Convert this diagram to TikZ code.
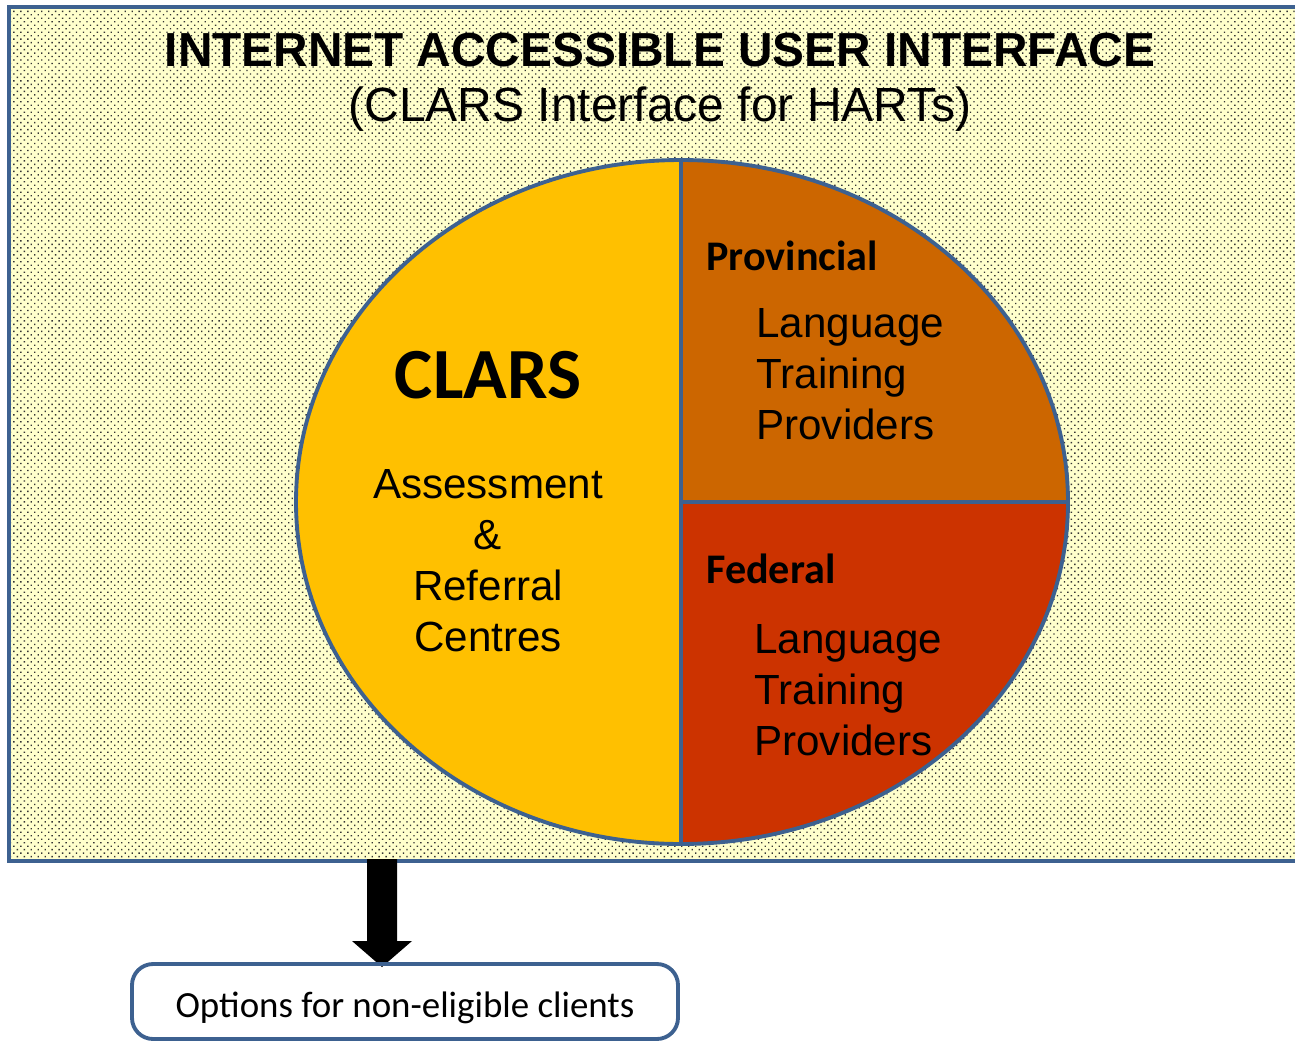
\documentclass[tikz,border=0pt]{standalone}
\usepackage{fontspec}
\setmainfont{Liberation Sans}
\newfontfamily\calfont{Carlito}
\usetikzlibrary{patterns.meta}
\definecolor{bordblue}{HTML}{3D6190}
\definecolor{bgyel}{HTML}{FFFFCC}
\definecolor{clarsyel}{HTML}{FFC000}
\definecolor{provor}{HTML}{CC6600}
\definecolor{fedred}{HTML}{CC3300}
\tikzset{
  part/.style={draw=bordblue, line width=2.2pt, line join=round},
  bodytext/.style={font=\fontsize{24}{28.9}\selectfont, align=left, inner sep=0pt},
  headtext/.style={font=\calfont\bfseries\fontsize{24}{28.9}\selectfont, inner sep=0pt},
}
\begin{document}
\begin{tikzpicture}[x=0.02cm, y=-0.02cm]
\useasboundingbox (0,0) rectangle (1295,1041);
\begin{scope}
\clip (0,0) rectangle (1295,1041);
% background panel
\fill[bgyel] (9,7) rectangle (1310,861);
\fill[pattern={Dots[distance=2.8pt, radius=0.55pt, angle=45]}, pattern color=black!80] (9,7) rectangle (1310,861);
\draw[bordblue, line width=2.2pt] (9,7) rectangle (1310,861);
% pie parts
\path[part, fill=clarsyel] (681,160) arc[start angle=-90, end angle=-270, x radius=385, y radius=342] -- cycle;
\path[part, fill=provor] (681,502) -- (681,160) arc[start angle=-90, end angle=0, x radius=387, y radius=342] -- cycle;
\path[part, fill=fedred] (681,502) -- (1068,502) arc[start angle=0, end angle=90, x radius=387, y radius=342] -- cycle;
% arrow
\fill[black] (367,859) -- (397,859) -- (397,941) -- (412,941) -- (382,967) -- (352,941) -- (367,941) -- cycle;
% bottom box
\draw[bordblue, line width=2.2pt, rounded corners=12] (132,964) rectangle (678,1039);
\end{scope}
% title
\node[anchor=base, inner sep=0pt, font=\bfseries\fontsize{27.2}{32}\selectfont] (title) at (660,66) {INTERNET ACCESSIBLE USER INTERFACE};
\node[anchor=base, inner sep=0pt, font=\fontsize{27.3}{32}\selectfont] (subtitle) at (660,121) {(CLARS Interface for HARTs)};
% CLARS
\node[anchor=base, inner sep=0pt, font=\calfont\bfseries\fontsize{41}{48}\selectfont] (clars) at (488,398) {CLARS};
\node[bodytext, align=center, anchor=base] (arc) at (488,651) {Assessment\\\&\\Referral\\Centres};
% provincial
\node[headtext, anchor=base west] (prov) at (706,270) {Provincial};
\node[bodytext, anchor=base west] (provtxt) at (756,439) {Language\\Training\\Providers};
% federal
\node[headtext, anchor=base west] (fed) at (706,583) {Federal};
\node[bodytext, anchor=base west] (fedtxt) at (754,755) {Language\\Training\\Providers};
% options
\node[anchor=base, inner sep=0pt, font=\calfont\fontsize{21}{25}\selectfont] (opts) at (405,1017) {Options for non-eligible clients};
\end{tikzpicture}
\end{document}
